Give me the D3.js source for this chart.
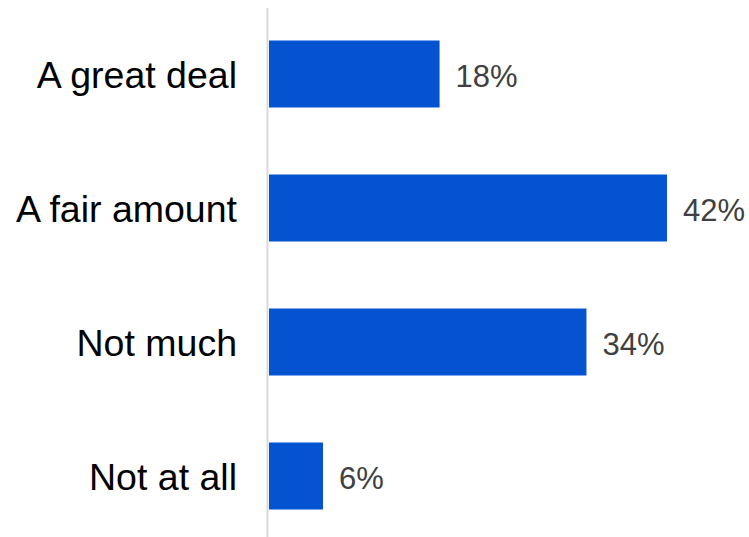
<!DOCTYPE html>
<html>
<head>
<meta charset="utf-8">
<script src="https://cdn.jsdelivr.net/npm/d3@7"></script>
<style>
  body { margin: 0; background: #fff; }
</style>
</head>
<body>
<div id="chart"></div>
<script>
var categories = ["A great deal", "A fair amount", "Not much", "Not at all"];
var values = [18.0, 42.0, 33.5, 5.7];
var valueLabels = ["18%", "42%", "34%", "6%"];

var width = 749, height = 537;

var svg = d3.select("#chart")
  .append("svg")
  .attr("width", width)
  .attr("height", height);

var x = d3.scaleLinear()
  .domain([0, 42])
  .range([269, 667]);

var y = d3.scaleBand()
  .domain(categories)
  .range([7, 543])
  .paddingInner(0.5)
  .paddingOuter(0.25);

// bars
svg.selectAll("rect.bar")
  .data(values)
  .enter()
  .append("rect")
  .attr("class", "bar")
  .attr("x", x(0))
  .attr("y", function (d, i) { return y(categories[i]) })
  .attr("width", function (d) { return x(d) - x(0) })
  .attr("height", y.bandwidth())
  .attr("fill", "#0553d1");

// axis line
svg.append("line")
  .attr("x1", 267.5).attr("x2", 267.5)
  .attr("y1", 8).attr("y2", height)
  .attr("stroke", "#d9d9d9")
  .attr("stroke-width", 2);

// category labels
svg.selectAll("text.cat")
  .data(categories)
  .enter()
  .append("text")
  .attr("class", "cat")
  .attr("x", 237)
  .attr("y", function (d) { return y(d) + y.bandwidth() / 2 })
  .attr("dy", "0.38em")
  .attr("text-anchor", "end")
  .attr("font-family", "Liberation Sans, Arial, sans-serif")
  .attr("font-size", 37.5)
  .attr("fill", "#000")
  .text(function (d) { return d });

// value labels
svg.selectAll("text.val")
  .data(values)
  .enter()
  .append("text")
  .attr("class", "val")
  .attr("x", function (d) { return x(d) + 16 })
  .attr("y", function (d, i) { return y(categories[i]) + y.bandwidth() / 2 })
  .attr("dy", "0.42em")
  .attr("font-family", "Liberation Sans, Arial, sans-serif")
  .attr("font-size", 31)
  .attr("fill", "#404040")
  .text(function (d, i) { return valueLabels[i] });
</script>
</body>
</html>
